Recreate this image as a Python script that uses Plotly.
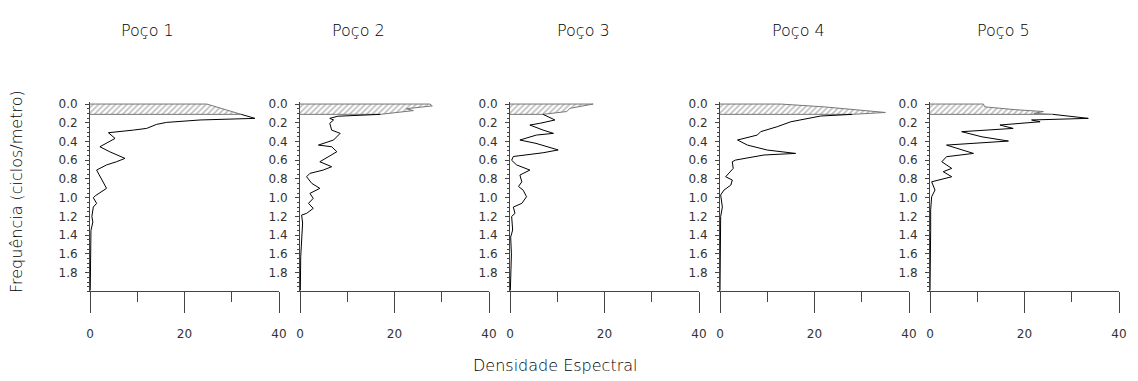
import plotly.graph_objects as go

# page body has an 8px margin; figure coordinates below are given in screen pixels
OFF = 8
W, H = 1130, 373

titles = ["Poço 1", "Poço 2", "Poço 3", "Poço 4", "Poço 5"]

freq_1 = [0.0, 0.11, 0.153, 0.17, 0.196, 0.217, 0.26, 0.278, 0.295, 0.306, 0.367, 0.456, 0.51, 0.58,
          0.616, 0.65, 0.705, 0.74, 0.9, 0.98, 1.0, 1.06, 1.1, 1.2, 1.26, 1.35, 1.63, 1.84, 1.99]
dens_1 = [24.7, 32, 34.9, 23.3, 16.2, 14.1, 12, 9.2, 4.9, 3.9, 5.3, 2.1, 4.2, 7.4,
          5.6, 3.5, 1.4, 1.8, 3.5, 1.1, 0.7, 1.4, 0.7, 0.4, 0.6, 0.2, 0.15, 0.1, 0.05]

freq_2 = [0.0, 0.02, 0.05, 0.07, 0.09, 0.11, 0.13, 0.153, 0.17, 0.206, 0.278, 0.313, 0.349, 0.384,
          0.438, 0.456, 0.509, 0.562, 0.616, 0.669, 0.705, 0.74, 0.776, 0.847, 0.9, 0.954, 1.007,
          1.06, 1.114, 1.167, 1.185, 1.27, 1.49, 1.63, 1.99]
dens_2 = [27.5, 28, 22.5, 24, 20, 17, 8, 6.3, 7.1, 6.3, 6.7, 8.5, 7.8, 7.1,
          3.9, 6.7, 7.8, 6.0, 4.2, 6.7, 4.9, 2.1, 1.4, 2.5, 4.2, 2.1, 2.8,
          1.8, 2.8, 1.4, 0.35, 0.55, 0.35, 0.15, 0.07]

freq_3 = [0.0, 0.046, 0.08, 0.11, 0.17, 0.206, 0.224, 0.278, 0.313, 0.331, 0.384, 0.42, 0.49, 0.52,
          0.56, 0.6, 0.65, 0.705, 0.758, 0.83, 0.88, 0.92, 0.99, 1.06, 1.1, 1.167, 1.2, 1.345,
          1.42, 1.6, 1.99]
dens_3 = [17.6, 12.7, 12, 7, 9.5, 6.3, 4.2, 7, 9.2, 5.6, 2.1, 5.5, 10.2, 7,
          0.7, 0.35, 1.4, 4.2, 2.1, 2.5, 1.8, 2.8, 3.5, 2.5, 0.7, 1.06, 0.35, 0.56,
          0.14, 0.3, 0.07]

freq_4 = [0.0, 0.03, 0.06, 0.09, 0.11, 0.128, 0.189, 0.242, 0.295, 0.331, 0.384, 0.438, 0.491,
          0.527, 0.544, 0.598, 0.616, 0.687, 0.776, 0.811, 0.865, 0.918, 0.97, 1.1, 1.2, 1.42, 1.99]
dens_4 = [12.8, 22, 29, 35, 28, 21.3, 15, 12.1, 8.6, 7.9, 3.7, 5.8, 10,
          16, 9.3, 3.3, 2.6, 2.8, 1.2, 2.6, 2.3, 0.85, 0.14, 0.5, 0.14, 0.07, 0.0]

freq_5 = [0.0, 0.03, 0.06, 0.08, 0.1, 0.11, 0.125, 0.153, 0.17, 0.189, 0.224, 0.26, 0.295, 0.35,
          0.395, 0.438, 0.527, 0.562, 0.616, 0.687, 0.722, 0.776, 0.83, 0.918, 0.99, 1.13, 1.35, 1.99]
dens_5 = [11.3, 11.6, 18, 24, 22, 26, 28.6, 33.5, 21.5, 23.3, 14.8, 17.6, 6.7, 11,
          16.6, 3.5, 9.2, 3.5, 2.5, 4.6, 2.8, 4.6, 0.35, 1.06, 0.35, 0.14, 0.14, 0.0]

freqs = [freq_1, freq_2, freq_3, freq_4, freq_5]
denss = [dens_1, dens_2, dens_3, dens_4, dens_5]

band_limit = 0.11
y_ticks = [0.0, 0.2, 0.4, 0.6, 0.8, 1.0, 1.2, 1.4, 1.6, 1.8]
x_ticks = [0, 20, 40]

FONT = "DejaVu Sans"
TXT = "#222222"
AX = "#444444"

panel_left = [90, 300, 510, 720, 930]
panel_w = 189
title_x = [147, 358, 583, 798, 1003]
y_bot_px, y_top_px = 291.4, 101.7


def px(xs):
    return (xs - OFF) / W


def py(ys):
    return (H - (ys - OFF)) / H


fig = go.Figure()
for i in range(5):
    f, d = freqs[i], denss[i]
    xa = "x" if i == 0 else f"x{i+1}"
    ya = "y" if i == 0 else f"y{i+1}"
    k = max(j for j, v in enumerate(f) if v <= band_limit + 1e-9)
    bf = f[:k + 1]
    bd = d[:k + 1]
    fig.add_trace(go.Scatter(
        x=[0] + bd + [0], y=[bf[0]] + bf + [bf[-1]],
        mode="lines", fill="toself", fillcolor="rgba(0,0,0,0)",
        fillpattern=dict(shape="/", fgcolor="#7a7a7a", bgcolor="white", size=4, solidity=0.4),
        line=dict(color="#777777", width=1), xaxis=xa, yaxis=ya, showlegend=False,
        hoverinfo="skip"))
    fig.add_trace(go.Scatter(
        x=d[k:], y=f[k:], mode="lines", line=dict(color="black", width=1),
        xaxis=xa, yaxis=ya, showlegend=False))

    xd = [px(panel_left[i]), px(panel_left[i] + panel_w)]
    yd = [py(y_bot_px), py(y_top_px)]
    xkey = "xaxis" if i == 0 else f"xaxis{i+1}"
    ykey = "yaxis" if i == 0 else f"yaxis{i+1}"
    fig.layout[xkey] = dict(
        domain=xd, anchor=ya, range=[0, 40], showline=True, linecolor=AX, linewidth=1,
        ticks="outside", tickvals=x_ticks, ticklen=21, tickcolor=AX, tickwidth=1,
        minor=dict(dtick=10, ticklen=10, ticks="outside", tickcolor=AX, showgrid=False),
        showgrid=False, zeroline=False, ticklabelstandoff=10,
        tickfont=dict(family=FONT, size=12, color="#333333"))
    fig.layout[ykey] = dict(
        domain=yd, anchor=xa, range=[2.0, -0.025], showline=True, linecolor=AX, linewidth=1,
        ticks="outside", tickvals=y_ticks, ticktext=[f"{v:.1f}" for v in y_ticks],
        ticklen=4, tickcolor=AX, tickwidth=1,
        minor=dict(dtick=0.05, ticklen=2, ticks="outside", tickcolor=AX, showgrid=False),
        showgrid=False, zeroline=False, ticklabelstandoff=5,
        tickfont=dict(family=FONT, size=12, color="#333333"))

    fig.add_annotation(text=titles[i], x=px(title_x[i]), y=py(30), xref="paper", yref="paper",
                       showarrow=False, font=dict(family=FONT, size=16, color="#000000", weight=300),
                       xanchor="center", yanchor="middle")

fig.add_annotation(text="Densidade Espectral", x=px(555), y=py(365), xref="paper", yref="paper",
                   showarrow=False, font=dict(family=FONT, size=16, color="#000000", weight=300),
                   xanchor="center", yanchor="middle")
fig.add_annotation(text="Frequência (ciclos/metro)", x=px(16), y=py(192), xref="paper",
                   yref="paper", showarrow=False, textangle=-90,
                   font=dict(family=FONT, size=16, color="#000000", weight=300),
                   xanchor="center", yanchor="middle")

fig.update_layout(width=W, height=H, margin=dict(l=0, r=0, t=0, b=0, autoexpand=False),
                  plot_bgcolor="white", paper_bgcolor="white")

fig.write_html("out.html")
